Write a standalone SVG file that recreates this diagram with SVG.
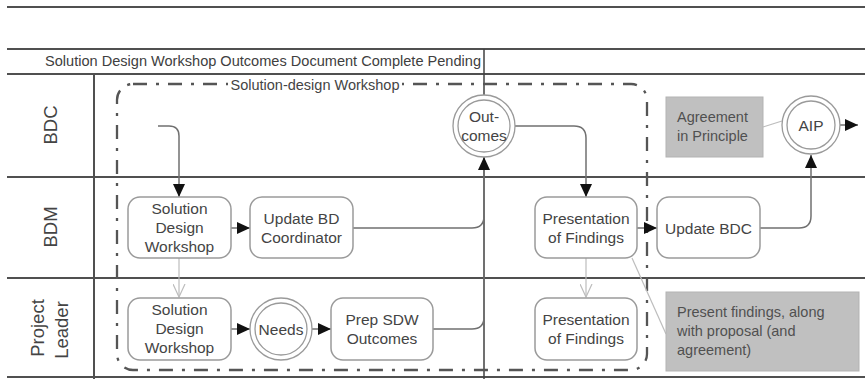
<svg xmlns="http://www.w3.org/2000/svg" width="865" height="379" viewBox="0 0 865 379">
  <defs>
    <style>
      .rule { stroke: #505050; stroke-width: 2; fill: none; }
      .milestone { stroke: #404040; stroke-width: 1.5; fill: none; }
      .flow { stroke: #707070; stroke-width: 1.5; fill: none; }
      .soft { stroke: #bdbdbd; stroke-width: 1.2; fill: none; }
      .task { fill: #ffffff; stroke: #9a9a9a; stroke-width: 1.5; }
      .event { fill: #ffffff; stroke: #9a9a9a; stroke-width: 1.3; }
      .note { fill: #c0c0c0; stroke: #b3b3b3; stroke-width: 1; }
      .label { font-family: "Liberation Sans", Arial, sans-serif; font-size: 15.5px; fill: #444444; text-anchor: middle; }
      .lane { font-family: "Liberation Sans", Arial, sans-serif; font-size: 18.5px; fill: #444444; text-anchor: middle; }
      .notetext { font-family: "Liberation Sans", Arial, sans-serif; font-size: 14.5px; fill: #505050; }
      .head { font-family: "Liberation Sans", Arial, sans-serif; font-size: 14px; fill: #404040; }
      .group { stroke: #555555; stroke-width: 2.3; fill: none; stroke-dasharray: 14 9 3 9; }
    </style>
    <marker id="arrow" viewBox="0 0 13 12" refX="13" refY="6" markerWidth="13" markerHeight="12" markerUnits="userSpaceOnUse" orient="auto">
      <path d="M0,0 L13,6 L0,12 Z" fill="#111111"/>
    </marker>
    <marker id="openArrow" viewBox="0 0 14 13" refX="13" refY="6.5" markerWidth="14" markerHeight="13" markerUnits="userSpaceOnUse" orient="auto">
      <path d="M0,0.5 L13,6.5 L0,12.5" fill="none" stroke="#bdbdbd" stroke-width="1.2"/>
    </marker>
  </defs>

  <rect width="865" height="379" fill="#ffffff"/>

  <!-- pool frame and lane rules -->
  <g id="pool">
    <line class="rule" x1="7" y1="7" x2="865" y2="7"/>
    <line class="rule" x1="7" y1="49" x2="865" y2="49"/>
    <line class="rule" x1="7" y1="74" x2="865" y2="74"/>
    <line class="rule" x1="7" y1="177" x2="865" y2="177"/>
    <line class="rule" x1="7" y1="278" x2="865" y2="278"/>
    <line class="rule" x1="7" y1="377" x2="865" y2="377"/>
    <line class="rule" x1="94" y1="74" x2="94" y2="379"/>
    <line class="milestone" x1="484" y1="49" x2="484" y2="379"/>
    <text class="head" x="45" y="66" textLength="436" lengthAdjust="spacingAndGlyphs">Solution Design Workshop Outcomes Document Complete Pending</text>
  </g>

  <g id="lane-labels">
    <text class="lane" transform="translate(57,125) rotate(-90)">BDC</text>
    <text class="lane" transform="translate(57,227) rotate(-90)">BDM</text>
    <text class="lane" transform="translate(44,328) rotate(-90)">Project</text>
    <text class="lane" transform="translate(68,330) rotate(-90)">Leader</text>
  </g>

  <!-- workshop group -->
  <g id="workshop-group">
    <rect class="group" x="117" y="84" width="530" height="286" rx="16" ry="16"/>
    <rect x="228" y="77" width="174" height="16" fill="#ffffff"/>
    <text class="label" x="315" y="90" style="font-size:14.5px">Solution-design Workshop</text>
  </g>

  <!-- connectors -->
  <g id="connectors">
    <path class="flow" d="M158,126 H169 Q179,126 179,136 V197" marker-end="url(#arrow)"/>
    <path class="flow" d="M231,228 H250" marker-end="url(#arrow)"/>
    <path class="flow" d="M353,228 H472 Q484,228 484,216 V157" marker-end="url(#arrow)"/>
    <path class="flow" d="M433,329 H472 Q484,329 484,317 V230"/>
    <path class="flow" d="M515,126 H574 Q586,126 586,138 V197" marker-end="url(#arrow)"/>
    <path class="flow" d="M637,228 H657" marker-end="url(#arrow)"/>
    <path class="flow" d="M760,228 H799 Q811,228 811,216 V155" marker-end="url(#arrow)"/>
    <path class="flow" d="M840,125 H858" marker-end="url(#arrow)"/>
    <path class="flow" d="M231,329 H250" marker-end="url(#arrow)"/>
    <path class="flow" d="M312,329 H331" marker-end="url(#arrow)"/>
    <path class="soft" d="M179,258 V297" marker-end="url(#openArrow)"/>
    <path class="soft" d="M586,258 V297" marker-end="url(#openArrow)"/>
    <path class="soft" d="M632,258 L666,334"/>
    <path class="soft" d="M763,127 L782,121"/>
  </g>

  <!-- BDC lane -->
  <g id="outcomes">
    <circle class="event" cx="484" cy="126" r="31"/>
    <circle class="event" cx="484" cy="126" r="26"/>
    <text class="label" x="484" y="122">Out-</text>
    <text class="label" x="484" y="141">comes</text>
  </g>
  <g id="agreement-note">
    <rect class="note" x="666" y="97" width="97" height="60"/>
    <text class="notetext" x="677" y="122">Agreement</text>
    <text class="notetext" x="677" y="141">in Principle</text>
  </g>
  <g id="aip">
    <circle class="event" cx="811" cy="125" r="29"/>
    <circle class="event" cx="811" cy="125" r="24"/>
    <text class="label" x="811" y="131">AIP</text>
  </g>

  <!-- BDM lane -->
  <g id="bdm-workshop">
    <rect class="task" x="128" y="197" width="103" height="61" rx="12" ry="12"/>
    <text class="label" x="179.5" y="214">Solution</text>
    <text class="label" x="179.5" y="233">Design</text>
    <text class="label" x="179.5" y="252">Workshop</text>
  </g>
  <g id="update-bd-coordinator">
    <rect class="task" x="250" y="197" width="103" height="61" rx="12" ry="12"/>
    <text class="label" x="301.5" y="224">Update BD</text>
    <text class="label" x="301.5" y="243">Coordinator</text>
  </g>
  <g id="bdm-presentation">
    <rect class="task" x="535" y="197" width="102" height="61" rx="12" ry="12"/>
    <text class="label" x="586" y="224">Presentation</text>
    <text class="label" x="586" y="243">of Findings</text>
  </g>
  <g id="update-bdc">
    <rect class="task" x="657" y="197" width="103" height="61" rx="12" ry="12"/>
    <text class="label" x="708.5" y="234">Update BDC</text>
  </g>

  <!-- Project Leader lane -->
  <g id="pl-workshop">
    <rect class="task" x="128" y="298" width="103" height="62" rx="12" ry="12"/>
    <text class="label" x="179.5" y="315">Solution</text>
    <text class="label" x="179.5" y="334">Design</text>
    <text class="label" x="179.5" y="353">Workshop</text>
  </g>
  <g id="needs">
    <circle class="event" cx="281" cy="329" r="31"/>
    <circle class="event" cx="281" cy="329" r="26"/>
    <text class="label" x="281" y="335">Needs</text>
  </g>
  <g id="prep-sdw-outcomes">
    <rect class="task" x="331" y="298" width="102" height="62" rx="12" ry="12"/>
    <text class="label" x="382" y="325">Prep SDW</text>
    <text class="label" x="382" y="344">Outcomes</text>
  </g>
  <g id="pl-presentation">
    <rect class="task" x="535" y="298" width="102" height="62" rx="12" ry="12"/>
    <text class="label" x="586" y="325">Presentation</text>
    <text class="label" x="586" y="344">of Findings</text>
  </g>
  <g id="findings-note">
    <rect class="note" x="666" y="292" width="193" height="79"/>
    <text class="notetext" x="677" y="317">Present findings, along</text>
    <text class="notetext" x="677" y="336">with proposal (and</text>
    <text class="notetext" x="677" y="355">agreement)</text>
  </g>
</svg>
